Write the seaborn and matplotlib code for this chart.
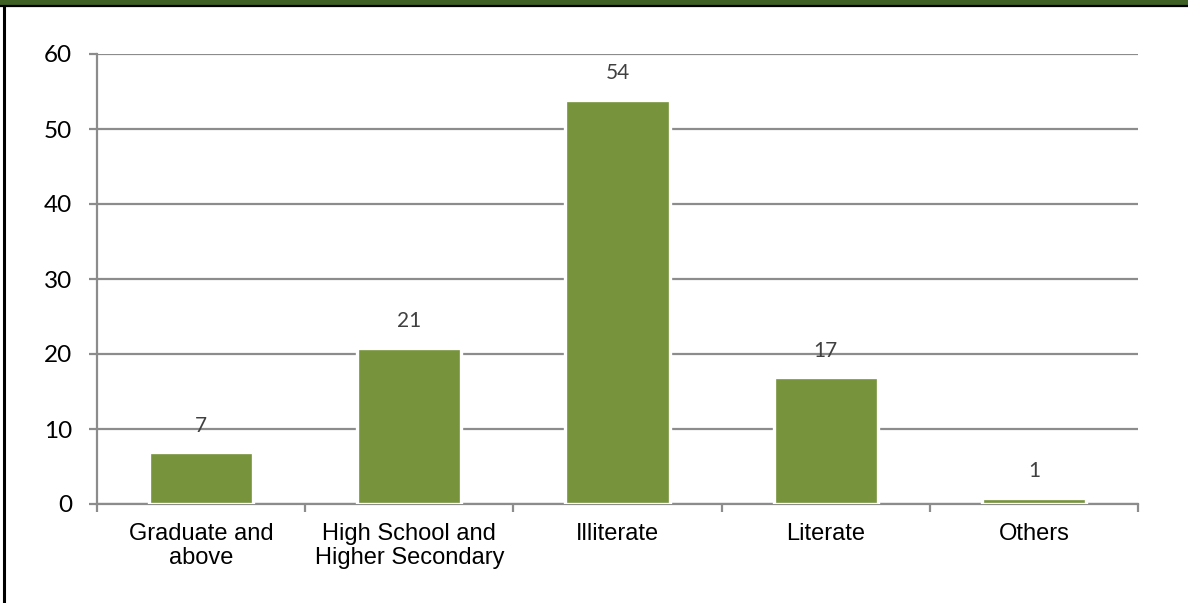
import matplotlib
matplotlib.use("Agg")
import matplotlib.pyplot as plt
from matplotlib.patches import Rectangle
from matplotlib.lines import Line2D
import seaborn as sns
import pandas as pd
import numpy as np

# Education level distribution (%)
categories = ["Graduate and\nabove", "High School and\nHigher Secondary", "Illiterate", "Literate", "Others"]
shares = [6.9, 20.8, 53.9, 16.9, 0.8]
y_ticks = [0, 10, 20, 30, 40, 50, 60]

df = pd.DataFrame({"level": categories, "share": shares})

sns.set_style("white")
plt.rcParams["font.family"] = ["Liberation Sans", "DejaVu Sans"]

W, H = 1188, 603
fig = plt.figure(figsize=(W / 100, H / 100), dpi=100)
ax = fig.add_axes([97 / W, (H - 504) / H, (1138 - 97) / W, (504 - 54) / H])

grid_color = "#8C8C8C"
bar_color = "#77933C"

sns.barplot(data=df, x="level", y="share", color=bar_color, saturation=1,
            width=0.5, edgecolor="white", linewidth=2.4, ax=ax, zorder=3)

ax.set_xlim(-0.5, len(categories) - 0.5)
ax.set_ylim(0, 60)
ax.set_yticks(y_ticks)
ax.set_yticklabels([str(t) for t in y_ticks], fontfamily="Lato", fontsize=17.5, color="black")
ax.yaxis.grid(True, color=grid_color, linewidth=1.6, zorder=0)
ax.set_axisbelow(True)

# category labels under bars, separator ticks between categories
ax.tick_params(axis="x", which="major", length=0, pad=14)
ax.set_xticks(range(len(categories)))
ax.set_xticklabels(categories, fontsize=17, color="black", linespacing=1.12)
ax.set_xticks(np.arange(-0.5, len(categories), 1.0), minor=True)
ax.tick_params(axis="x", which="minor", length=6, width=1.6, color=grid_color, direction="out", bottom=True)
ax.tick_params(axis="y", length=6, width=1.6, color=grid_color, direction="out", left=True, pad=12)

for side in ["top", "right"]:
    ax.spines[side].set_visible(False)
for side in ["left", "bottom"]:
    ax.spines[side].set_color(grid_color)
    ax.spines[side].set_linewidth(1.6)

ax.set_xlabel("")
ax.set_ylabel("")

for container in ax.containers:
    ax.bar_label(container, fmt="%.0f", padding=12, fontfamily="Lato",
                 fontsize=15, color="#404040")

# header band and frame
fig.patches.append(Rectangle((0, (H - 5) / H), 1, 5 / H, transform=fig.transFigure,
                             facecolor="#3F6126", edgecolor="none", zorder=5))
fig.lines.append(Line2D([0, 1], [(H - 6) / H, (H - 6) / H], transform=fig.transFigure,
                        color="black", linewidth=1.6, zorder=6))
fig.lines.append(Line2D([3.5 / W, 3.5 / W], [0, (H - 6) / H], transform=fig.transFigure,
                        color="black", linewidth=2.2, zorder=6))

fig.savefig("out.png", dpi=100, facecolor="white")
